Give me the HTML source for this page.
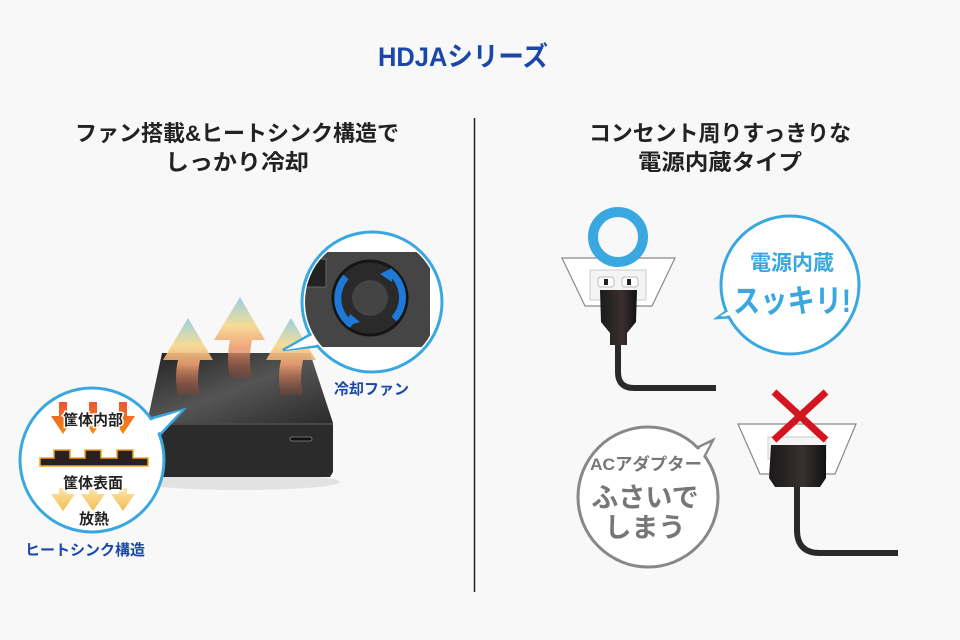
<!DOCTYPE html>
<html><head><meta charset="utf-8"><style>
html,body{margin:0;padding:0;background:#f8f8f8;}
svg{display:block;font-family:"Liberation Sans","Noto Sans CJK JP",sans-serif;}
</style></head><body>
<svg width="960" height="640" viewBox="0 0 960 640" xmlns="http://www.w3.org/2000/svg">
<defs>
<linearGradient id="ar" x1="0" y1="0" x2="0" y2="1">
<stop offset="0" stop-color="#8fcbe0"/><stop offset="0.35" stop-color="#f5d98c"/><stop offset="0.6" stop-color="#f0a070"/><stop offset="1" stop-color="#a0402a" stop-opacity="0.3"/>
</linearGradient>
<linearGradient id="top" x1="0" y1="0" x2="1" y2="1">
<stop offset="0" stop-color="#222"/><stop offset="0.5" stop-color="#555"/><stop offset="1" stop-color="#2a2a2a"/>
</linearGradient>
<linearGradient id="plug" x1="0" y1="0" x2="1" y2="0">
<stop offset="0" stop-color="#1a1a1a"/><stop offset="0.6" stop-color="#3a3030"/><stop offset="1" stop-color="#111"/>
</linearGradient>
<linearGradient id="og" x1="0" y1="0" x2="0" y2="1"><stop offset="0" stop-color="#e53"/><stop offset="1" stop-color="#f08a10"/></linearGradient>
<linearGradient id="yg" x1="0" y1="0" x2="0" y2="1"><stop offset="0" stop-color="#fbe3a0"/><stop offset="1" stop-color="#f3b640"/></linearGradient>
</defs>
<rect width="960" height="640" fill="#f8f8f8"/>
<text x="463" y="66" text-anchor="middle" font-size="27" font-weight="bold" fill="#1a47a8" textLength="170" lengthAdjust="spacingAndGlyphs">HDJAシリーズ</text>
<line x1="474.5" y1="118" x2="474.5" y2="592" stroke="#222" stroke-width="1.5"/>
<g font-size="22" font-weight="bold" fill="#222" text-anchor="middle">
<text x="237" y="141" textLength="324" lengthAdjust="spacingAndGlyphs">ファン搭載&amp;ヒートシンク構造で</text>
<text x="237" y="170" textLength="144" lengthAdjust="spacingAndGlyphs">しっかり冷却</text>
<text x="720" y="141" textLength="262" lengthAdjust="spacingAndGlyphs">コンセント周りすっきりな</text>
<text x="720" y="170" textLength="164" lengthAdjust="spacingAndGlyphs">電源内蔵タイプ</text>
</g>
<!-- device -->
<ellipse cx="240" cy="482" rx="100" ry="8" fill="#ccc" opacity="0.5"/>
<polygon points="162,353 310,353 333,423 147,423" fill="url(#top)"/>
<polygon points="147,423 333,423 333,472 330,477 150,477 147,472" fill="#2b2b2b"/>
<line x1="147" y1="424" x2="333" y2="424" stroke="#666" stroke-width="1"/>
<rect x="290" y="437" width="22" height="4" rx="2" fill="#111" stroke="#888" stroke-width="0.8"/>
<!-- heat arrows -->
<path d="M188,318 L213,360 L200,360 Q196,380 200,395 L178,395 Q174,378 178,360 L163,360 Z" fill="url(#ar)" opacity="0.9"/>
<path d="M240,297 L265,340 L252,340 Q248,360 252,378 L230,378 Q226,360 230,340 L214,340 Z" fill="url(#ar)" opacity="0.9"/>
<path d="M291,318 L316,360 L303,360 Q299,380 303,395 L281,395 Q277,378 281,360 L266,360 Z" fill="url(#ar)" opacity="0.9"/>
<!-- right fan bubble -->
<path d="M283,350 L318,330 L330,345 Z" fill="#fff" stroke="#3aa8e0" stroke-width="2.5"/>
<circle cx="372" cy="302" r="70" fill="#fff" stroke="#3aa8e0" stroke-width="3"/>
<path d="M285,350 L318,332 L328,343 Z" fill="#fff"/>
<clipPath id="cf"><circle cx="372" cy="302" r="67"/></clipPath>
<g clip-path="url(#cf)">
<rect x="300" y="252" width="130" height="95" rx="4" fill="#454545"/>
<rect x="306" y="259" width="20" height="28" fill="#222" stroke="#666"/>
<circle cx="370" cy="298" r="37" fill="#2a2a2a" stroke="#151515" stroke-width="3"/>
<circle cx="370" cy="298" r="18" fill="#444"/>
<path d="M346,277 A32,32 0 0 0 352,325" fill="none" stroke="#1e7ad8" stroke-width="7"/>
<path d="M394,319 A32,32 0 0 0 390,272" fill="none" stroke="#1e7ad8" stroke-width="7"/>
<path d="M346,326 L360,322 L350,314 Z" fill="#1e7ad8"/>
<path d="M392,268 L380,274 L392,282 Z" fill="#1e7ad8"/>
</g>
<text x="334" y="394" font-size="15" font-weight="bold" fill="#1a47a8">冷却ファン</text>
<!-- left heatsink bubble -->
<path d="M183,410 L145,420 L155,440 Z" fill="#fff" stroke="#3aa8e0" stroke-width="2.5"/>
<circle cx="92" cy="460" r="72" fill="#fff" stroke="#3aa8e0" stroke-width="3"/>
<path d="M181,411 L146,422 L154,437 Z" fill="#fff"/>
<g fill="url(#og)">
<path d="M59,402 h8 v14 h8 l-12,18 l-12,-18 h8z"/>
<path d="M89,402 h8 v14 h8 l-12,18 l-12,-18 h8z"/>
<path d="M119,402 h8 v14 h8 l-12,18 l-12,-18 h8z"/>
</g>
<path d="M40,458 L40,466 L148,466 L148,458 L133,458 L133,450 L117,450 L117,458 L101,458 L101,450 L85,450 L85,458 L70,458 L70,450 L54,450 L54,458 Z" fill="#2a2020" stroke="#f5a020" stroke-width="1.5"/>
<g fill="url(#yg)" opacity="0.9">
<path d="M59,488 h8 v6 h8 l-12,17 l-12,-17 h8z"/>
<path d="M89,488 h8 v6 h8 l-12,17 l-12,-17 h8z"/>
<path d="M119,488 h8 v6 h8 l-12,17 l-12,-17 h8z"/>
</g>
<g font-size="15" font-weight="bold" fill="#222" text-anchor="middle" stroke="#fff" stroke-width="3" paint-order="stroke">
<text x="93" y="425">筐体内部</text>
<text x="93" y="488">筐体表面</text>
<text x="94" y="524">放熱</text>
</g>
<text x="25" y="555" font-size="15" font-weight="bold" fill="#1a47a8">ヒートシンク構造</text>
<!-- right top: outlet with plug -->
<polygon points="562,258 675,258 652,306 585,306" fill="#fff" stroke="#888" stroke-width="1.2"/>
<rect x="590" y="270" width="56" height="30" fill="#f4f4f4" stroke="#ccc"/>
<rect x="598" y="277" width="16" height="10" rx="3" fill="#fff" stroke="#bbb"/><rect x="604" y="279" width="4" height="6" fill="#222"/>
<rect x="622" y="277" width="16" height="10" rx="3" fill="#fff" stroke="#bbb"/><rect x="627" y="279" width="4" height="6" fill="#222"/>
<circle cx="618" cy="237" r="25" fill="none" stroke="#3aa8e0" stroke-width="10"/>
<path d="M600,290 L637,290 L636,322 L627,333 L627,345 L610,345 L610,333 L601,322 Z" fill="url(#plug)"/>
<path d="M618,345 L618,372 Q618,388 634,388 L716,388" fill="none" stroke="#2a2a2a" stroke-width="6"/>
<!-- blue bubble -->
<path d="M717,318 L742,300 L752,316 Z" fill="#fff" stroke="#3aa8e0" stroke-width="2.5"/>
<circle cx="790" cy="285" r="69" fill="#fff" stroke="#3aa8e0" stroke-width="3"/>
<path d="M720,316 L743,303 L750,314 Z" fill="#fff"/>
<text x="792" y="270" text-anchor="middle" font-size="21" font-weight="bold" fill="#3aa8e0">電源内蔵</text>
<text x="792" y="312" text-anchor="middle" font-size="32" font-weight="bold" fill="#3aa8e0" textLength="118" lengthAdjust="spacingAndGlyphs">スッキリ!</text>
<!-- bottom right outlet with adapter -->
<polygon points="738,424 856,424 835,474 760,474" fill="#fff" stroke="#888" stroke-width="1.2"/>
<rect x="768" y="437" width="58" height="22" fill="#f4f4f4" stroke="#ccc"/>
<path d="M771,445 L826,445 L826,478 L820,487 L775,487 L769,478 Z" fill="url(#plug)"/>
<path d="M797,487 L797,530 Q797,553 820,553 L898,553" fill="none" stroke="#2a2a2a" stroke-width="6"/>
<line x1="774" y1="392" x2="826" y2="440" stroke="#d4141e" stroke-width="7"/>
<line x1="826" y1="392" x2="774" y2="440" stroke="#d4141e" stroke-width="7"/>
<!-- gray bubble -->
<path d="M713,440 L700,465 L688,452 Z" fill="#fff" stroke="#888" stroke-width="2.5"/>
<circle cx="648" cy="497" r="70" fill="#fff" stroke="#888" stroke-width="3"/>
<path d="M710,444 L700,462 L690,453 Z" fill="#fff"/>
<g fill="#777" font-weight="bold" text-anchor="middle">
<text x="646" y="470" font-size="17" textLength="112" lengthAdjust="spacingAndGlyphs">ACアダプター</text>
<text x="645" y="507" font-size="27">ふさいで</text>
<text x="645" y="537" font-size="27">しまう</text>
</g>
</svg>
</body></html>
